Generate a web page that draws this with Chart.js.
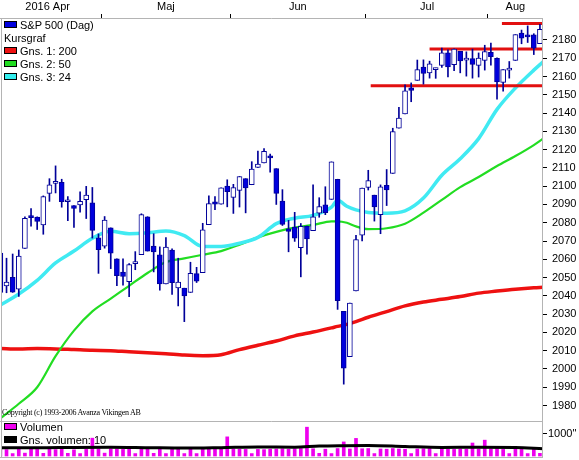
<!DOCTYPE html>
<html>
<head>
<meta charset="utf-8">
<script src="https://cdn.jsdelivr.net/npm/chart.js@4.4.1/dist/chart.umd.min.js"></script>
<style>
  html, body { margin: 0; padding: 0; background: #fff; }
  #wrap { position: relative; width: 579px; height: 460px; overflow: hidden; font-family: "Liberation Sans", Arial, sans-serif; }
  #priceBox { position: absolute; left: 0; top: 0; width: 579px; height: 422px; }
  #volBox { position: absolute; left: 0; top: 422px; width: 579px; height: 38px; }
  .leg { position: absolute; left: 4px; font-size: 11px; line-height: 13px; color: #000; white-space: nowrap; }
  .leg i { display: inline-block; width: 11px; height: 5px; border: 1px solid #000; margin-right: 3px; vertical-align: 1px; }
  #copy { position: absolute; left: 2px; top: 408px; font: 8px "Liberation Serif", serif; letter-spacing: -0.25px; color: #000; white-space: nowrap; }
</style>
</head>
<body>
<div id="wrap">
  <div id="priceBox"><canvas id="priceChart"></canvas></div>
  <div id="volBox"><canvas id="volChart"></canvas></div>

  <div class="leg" style="top:19px"><i style="background:#0000dd"></i>S&amp;P 500 (Dag)</div>
  <div class="leg" style="top:32px">Kursgraf</div>
  <div class="leg" style="top:45px"><i style="background:#ee1111"></i>Gns. 1: 200</div>
  <div class="leg" style="top:58px"><i style="background:#22dd22"></i>Gns. 2: 50</div>
  <div class="leg" style="top:71px"><i style="background:#33eeee"></i>Gns. 3: 24</div>
  <div id="copy">Copyright (c) 1993-2006 Avanza Vikingen AB</div>
  <div class="leg" style="top:421px"><i style="background:#ee00ee"></i>Volumen</div>
  <div class="leg" style="top:434px"><i style="background:#000"></i>Gns. volumen: 10</div>
</div>

<script>
// --- data ---
const days = ['04-07','04-08','04-11','04-12','04-13','04-14','04-15','04-18','04-19','04-20','04-21','04-22','04-25','04-26','04-27','04-28','04-29',
  '05-02','05-03','05-04','05-05','05-06','05-09','05-10','05-11','05-12','05-13','05-16','05-17','05-18','05-19','05-20','05-23','05-24','05-25','05-26','05-27','05-31',
  '06-01','06-02','06-03','06-06','06-07','06-08','06-09','06-10','06-13','06-14','06-15','06-16','06-17','06-20','06-21','06-22','06-23','06-24','06-27','06-28','06-29','06-30',
  '07-01','07-05','07-06','07-07','07-08','07-11','07-12','07-13','07-14','07-15','07-18','07-19','07-20','07-21','07-22','07-25','07-26','07-27','07-28','07-29',
  '08-01','08-02','08-03','08-04','08-05','08-08','08-09','08-10','08-11'];

const opens = [2063.4,2045.5,2050.2,2043.7,2065.9,2082.9,2083.1,2078.8,2096.1,2101.5,2102.1,2091.5,2089.4,2089.8,2092.6,2090.9,2071.8,
  2067.2,2077.2,2060.3,2053.0,2047.8,2057.6,2062.6,2083.3,2067.2,2062.5,2046.5,2065.0,2044.4,2044.2,2041.9,2052.2,2052.7,2078.9,2091.4,2090.1,2100.1,
  2093.9,2097.7,2104.1,2100.8,2110.2,2112.7,2115.7,2109.6,2091.8,2076.7,2077.6,2066.4,2078.2,2075.6,2085.2,2089.8,2092.8,2103.8,2031.5,2006.7,2042.7,2073.2,
  2099.3,2095.1,2084.4,2100.4,2107.0,2131.7,2139.5,2153.8,2157.9,2165.1,2162.0,2163.8,2166.1,2172.9,2166.5,2173.7,2169.0,2169.8,2166.1,2168.8,
  2173.2,2169.9,2156.8,2163.5,2168.8,2183.8,2182.2,2182.8,2178.0];
const highs = [2063.4,2060.6,2062.9,2065.1,2083.2,2087.8,2083.2,2094.7,2104.1,2111.1,2103.8,2094.3,2089.4,2096.9,2099.9,2099.3,2073.9,
  2083.4,2077.2,2060.3,2060.2,2057.7,2064.2,2084.9,2083.3,2074.0,2066.8,2071.9,2065.7,2060.6,2044.2,2058.4,2055.6,2079.7,2094.7,2094.3,2099.1,2103.5,
  2101.0,2105.3,2104.1,2113.4,2119.2,2120.6,2117.6,2109.6,2098.1,2081.3,2085.7,2079.6,2078.2,2100.7,2093.7,2099.7,2113.3,2103.8,2031.5,2036.1,2073.1,2098.9,
  2108.7,2095.1,2100.7,2109.1,2131.7,2143.2,2155.4,2156.5,2169.0,2169.1,2168.4,2164.6,2175.6,2174.6,2175.1,2173.7,2173.5,2175.0,2172.9,2177.1,
  2178.3,2170.2,2163.8,2168.2,2182.9,2185.4,2187.7,2183.4,2188.5];
const lows = [2033.8,2041.7,2041.9,2039.7,2065.9,2078.1,2076.3,2073.7,2091.7,2096.3,2088.5,2081.2,2077.5,2085.8,2082.3,2071.6,2052.3,
  2066.1,2054.9,2045.6,2045.8,2039.5,2054.3,2062.6,2064.5,2053.1,2043.1,2046.5,2040.8,2034.5,2025.9,2041.9,2047.3,2052.7,2078.9,2087.1,2090.1,2088.7,
  2085.1,2088.6,2085.4,2100.8,2110.2,2112.7,2107.7,2090.0,2078.5,2064.1,2069.8,2050.4,2062.8,2075.6,2083.0,2084.4,2092.8,2032.6,1991.7,2006.7,2042.7,2070.0,
  2097.9,2080.9,2074.0,2089.4,2107.0,2131.7,2139.5,2146.2,2157.9,2155.8,2159.1,2159.0,2164.9,2159.8,2163.2,2162.0,2160.2,2159.1,2159.7,2163.5,
  2166.2,2147.6,2152.0,2159.1,2168.8,2177.9,2178.6,2172.0,2178.0];
const closes = [2041.9,2047.6,2042.0,2061.7,2082.4,2082.8,2080.7,2094.3,2100.8,2102.4,2091.5,2091.6,2087.8,2091.7,2095.2,2075.8,2065.3,
  2081.4,2063.4,2051.1,2050.6,2057.1,2058.7,2084.4,2064.5,2064.1,2046.6,2066.7,2047.2,2047.6,2040.0,2052.3,2048.0,2076.1,2090.5,2090.1,2099.1,2097.0,
  2099.3,2105.3,2099.1,2109.4,2112.1,2119.1,2115.5,2096.1,2079.1,2075.3,2071.5,2078.0,2071.2,2083.3,2088.9,2085.5,2113.3,2037.4,2000.5,2036.1,2070.8,2098.9,
  2103.0,2088.6,2099.7,2097.9,2129.9,2137.2,2152.1,2152.4,2163.8,2161.7,2166.9,2163.8,2173.0,2165.2,2175.0,2168.5,2169.2,2166.6,2170.1,2173.6,
  2170.8,2157.0,2163.8,2164.3,2182.9,2180.9,2181.7,2175.5,2185.8];

const volumes = [320,290,110,310,130,320,300,120,310,290,330,120,280,110,300,810,330,
  130,330,320,300,320,110,310,330,120,320,110,300,320,110,330,110,300,310,300,320,870,
  320,310,300,110,300,290,310,320,330,310,330,340,1310,330,120,310,110,340,640,320,800,330,
  340,110,320,310,340,320,310,110,320,330,340,110,320,310,300,320,310,590,320,720,
  320,340,300,110,320,300,110,310,120];

// moving averages, sampled at day index
const maDay = [0,3,6,9,12,15,18,21,24,27,30,33,36,39,42,45,48,51,54,55,56.5,58,60,63,66,69,72,75,78,81,84,87,88.5];
const ma200 = [2011.2,2010.9,2011.2,2011.0,2010.6,2010.2,2010.0,2009.4,2008.9,2008.3,2007.6,2007.3,2007.8,2010.6,2013.0,2015.3,2018.1,2020.2,2022.5,2023.3,2024.4,2025.9,2028.3,2031.4,2034.5,2036.6,2038.1,2039.6,2041.5,2042.6,2043.6,2044.4,2044.7];
const ma50 = [1973.0,1981.0,1990.0,2007.0,2021.0,2031.5,2038.5,2045.5,2052.5,2058.5,2060.5,2062.5,2064.5,2068.0,2072.0,2075.0,2077.3,2078.8,2080.8,2080.8,2080.0,2078.0,2076.5,2077.0,2079.5,2085.5,2092.5,2099.5,2105.0,2111.0,2116.5,2122.5,2126.0];
const ma24 = [2035.0,2041.0,2048.5,2058.0,2064.5,2071.5,2075.3,2074.0,2074.5,2075.5,2073.0,2067.0,2067.0,2068.8,2072.0,2079.5,2082.5,2084.0,2088.5,2092.3,2089.0,2087.0,2085.6,2085.2,2086.5,2093.5,2106.0,2115.0,2126.0,2142.0,2153.7,2163.5,2168.0];

// drawn support / resistance levels
const levelValue = [2155, 2175, 2189];
const levelFrom = [60.4, 70, 81.8];

// 10-day average volume, sampled
const volAvgDay = [0,6,12,18,24,30,36,42,48,52,56,60,66,72,78,84,88.5];
const volAvg = [380,370,390,400,380,360,380,410,400,450,470,480,430,390,400,390,330];

// axes
const monthNames = ['2016 Apr', 'Maj', 'Jun', 'Jul', 'Aug'];
const monthFirst = [0, 17, 38, 60, 80];
const monthLabelAt = [7.7, 27, 48.5, 69.6, 84];
const priceTicks = [1980,1990,2000,2010,2020,2030,2040,2050,2060,2070,2080,2090,2100,2110,2120,2130,2140,2150,2160,2170,2180];
const volTicks = [1000];

const xMin = 0.1, xMax = 88.5;
const yMin = 1971, yMax = 2192;
const volMin = -91, volMax = 1545;

// --- helpers ---
const boundaries = monthFirst.slice(1).map(i => i - 0.5);
const axisFont = { size: 11, family: '"Liberation Sans", Arial, sans-serif' };
const noPad = s => { s.paddingTop = 0; s.paddingBottom = 0; s.paddingLeft = 0; s.paddingRight = 0; };

const framePlugin = {
  id: 'frame',
  afterDraw(chart, args, opts) {
    const { ctx, chartArea: a } = chart;
    ctx.save();
    ctx.strokeStyle = '#b4b4b4';
    ctx.lineWidth = 1;
    ctx.beginPath();
    if (opts.top) {
      ctx.moveTo(0, a.top + 0.5);
      ctx.lineTo(a.right - 0.5, a.top + 0.5);
    }
    ctx.moveTo(a.left + 0.5, a.top);
    ctx.lineTo(a.left + 0.5, a.bottom);
    ctx.moveTo(a.right - 0.5, a.top);
    ctx.lineTo(a.right - 0.5, a.bottom);
    ctx.moveTo(0, a.bottom - 0.5);
    ctx.lineTo(a.right - 0.5, a.bottom - 0.5);
    ctx.stroke();
    ctx.restore();
  }
};

// month names centred on their month, placed through the x scale
const monthLabelPlugin = {
  id: 'monthLabels',
  afterDraw(chart) {
    const { ctx, scales: { x } } = chart;
    ctx.save();
    ctx.font = '11px "Liberation Sans", Arial, sans-serif';
    ctx.fillStyle = '#000';
    ctx.textAlign = 'center';
    ctx.textBaseline = 'middle';
    monthNames.forEach((name, k) => ctx.fillText(name, x.getPixelForValue(monthLabelAt[k]), 7));
    ctx.restore();
  }
};

const lineDs = (label, xs, ys, color, width, order) => ({
  type: 'line', label,
  data: xs.map((x, k) => ({ x, y: ys[k] })),
  borderColor: color, borderWidth: width, pointRadius: 0,
  cubicInterpolationMode: 'monotone', order
});

// --- price chart ---
const datasets = [
  {
    type: 'bar', label: 'wick',
    data: days.map((d, i) => ({ x: i, y: [lows[i], highs[i]] })),
    backgroundColor: '#000099', borderWidth: 0,
    barThickness: 1, grouped: false, order: 1
  },
  {
    type: 'bar', label: 'S&P 500 (Dag)',
    data: days.map((d, i) => ({ x: i, y: [opens[i], closes[i]] })),
    backgroundColor: days.map((d, i) => closes[i] >= opens[i] ? '#ffffff' : '#0000dd'),
    borderColor: '#000099', borderWidth: 1, borderSkipped: false,
    barThickness: 5, minBarLength: 2, grouped: false, order: 0
  },
  lineDs('Gns. 1: 200', maDay, ma200, '#ee1111', 3.5, 6),
  lineDs('Gns. 2: 50', maDay, ma50, '#22dd22', 2.2, 5),
  lineDs('Gns. 3: 24', maDay, ma24, '#40eaf2', 3.5, 4)
];
levelValue.forEach((v, k) => {
  datasets.push({
    type: 'line', label: 'level ' + k,
    data: [{ x: levelFrom[k], y: v }, { x: xMax + 1, y: v }],
    borderColor: '#e21010', borderWidth: 3, pointRadius: 0, order: 3
  });
});

new Chart(document.getElementById('priceChart'), {
  type: 'bar',
  data: { datasets },
  options: {
    animation: false, responsive: true, maintainAspectRatio: false,
    layout: { padding: { left: 1, top: 0, right: 0, bottom: 0 } },
    plugins: { legend: { display: false }, tooltip: { enabled: false }, frame: { top: true } },
    scales: {
      x: {
        type: 'linear', position: 'top', min: xMin, max: xMax, offset: false,
        afterBuildTicks: s => { s.ticks = boundaries.map(v => ({ value: v })); },
        afterFit: s => { s.height = 18; noPad(s); },
        ticks: { autoSkip: false, maxRotation: 0, minRotation: 0, callback: () => '' },
        grid: {
          offset: false, drawOnChartArea: false, drawTicks: true, tickLength: 4,
          tickColor: '#000', color: 'rgba(0,0,0,0)'
        },
        border: { display: false }
      },
      y: {
        type: 'linear', position: 'right', min: yMin, max: yMax,
        afterBuildTicks: s => { s.ticks = priceTicks.map(v => ({ value: v })); },
        afterFit: s => { s.width = 36; noPad(s); },
        ticks: { padding: 5, color: '#000', font: axisFont, callback: v => String(v) },
        grid: { drawOnChartArea: false, drawTicks: true, tickLength: 4, tickColor: '#000', color: 'rgba(0,0,0,0)' },
        border: { display: false }
      }
    }
  },
  plugins: [framePlugin, monthLabelPlugin]
});

// --- volume chart ---
new Chart(document.getElementById('volChart'), {
  type: 'bar',
  data: {
    datasets: [
      lineDs('Gns. volumen: 10', volAvgDay, volAvg, '#000000', 3, 0),
      {
        type: 'bar', label: 'Volumen',
        data: days.map((d, i) => ({ x: i, y: volumes[i] })),
        backgroundColor: '#ee00ee', borderWidth: 0,
        barThickness: 3, grouped: false, order: 1
      }
    ]
  },
  options: {
    animation: false, responsive: true, maintainAspectRatio: false,
    layout: { padding: { left: 1, top: 0, right: 0, bottom: 2 } },
    plugins: { legend: { display: false }, tooltip: { enabled: false }, frame: { top: false } },
    scales: {
      x: { type: 'linear', display: false, min: xMin, max: xMax, offset: false },
      y: {
        type: 'linear', position: 'right', min: volMin, max: volMax,
        afterFit: s => { s.width = 36; noPad(s); },
        afterBuildTicks: s => { s.ticks = volTicks.map(v => ({ value: v })); },
        ticks: { padding: 1, color: '#000', font: axisFont, callback: v => v + '"' },
        grid: { drawOnChartArea: false, drawTicks: true, tickLength: 4, tickColor: '#000', color: 'rgba(0,0,0,0)' },
        border: { display: false }
      }
    }
  },
  plugins: [framePlugin]
});
</script>
</body>
</html>
